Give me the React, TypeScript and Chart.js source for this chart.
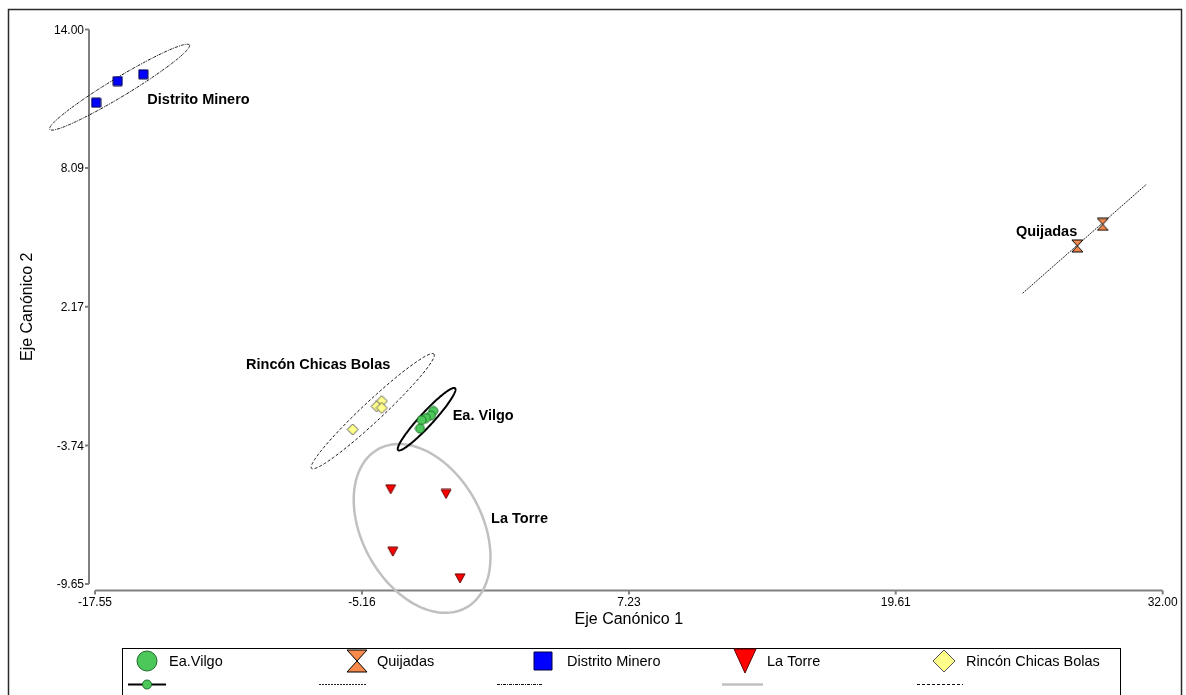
import { useEffect, useRef } from "react";
import { Chart, registerables } from "chart.js";

Chart.register(...registerables);

const FONT = '"Liberation Sans", Arial, sans-serif';

// Group scores on the two canonical axes
const eaVilgoX = [-1.85, -1.96, -2.19, -2.39, -2.47];
const eaVilgoY = [-2.27, -2.46, -2.57, -2.66, -3.02];
const quijadasX = [28.04, 29.22];
const quijadasY = [4.77, 5.69];
const distritoX = [-17.5, -16.5, -15.31];
const distritoY = [10.88, 11.8, 12.09];
const laTorreX = [-3.83, -1.26, -3.73, -0.61];
const laTorreY = [-5.61, -5.81, -8.27, -9.41];
const rinconX = [-5.59, -4.24, -4.48, -4.24];
const rinconY = [-3.06, -1.85, -2.07, -2.14];

const groupNames = ["Ea.Vilgo", "Quijadas", "Distrito Minero", "La Torre", "Rincón Chicas Bolas"];

// Axis ticks
const xTickValues = [-17.55, -5.16, 7.23, 19.61, 32.0];
const xTickLabels = ["-17.55", "-5.16", "7.23", "19.61", "32.00"];
const yTickValues = [-9.65, -3.74, 2.17, 8.09, 14.0];
const yTickLabels = ["-9.65", "-3.74", "2.17", "8.09", "14.00"];

// Confidence ellipses: centre, end of first semi-axis, end of second semi-axis (data units)
const ellipseCenter = [[-2.16, -2.62], [28.38, 5.08], [-16.41, 11.54], [-2.37, -7.28], [-4.66, -2.28]];
const ellipseAxisA = [[-0.84, -1.3], [31.26, 7.41], [-13.17, 13.34], [-0.33, -10.66], [-1.82, 0.16]];
const ellipseAxisB = [[-1.93, -2.81], [28.38, 5.08], [-16.18, 11.2], [0.06, -6.04], [-4.34, -2.59]];

// Group name annotations (left edge, vertical middle; data units)
const labelText = ["Ea. Vilgo", "Quijadas", "Distrito Minero", "La Torre", "Rincón Chicas Bolas"];
const labelPos = [[-0.95, -2.48], [25.19, 5.38], [-15.12, 10.99], [0.83, -6.89], [-10.54, -0.31]];

type Shape = "circle" | "hourglass" | "square" | "triangleDown" | "diamond";

const groupStyle: {
  shape: Shape; fill: string; stroke: string; size: [number, number]; legendSize: [number, number];
  lineColor: string; lineWidth: number; dash: number[];
}[] = [
  { shape: "circle", fill: "#4cc85a", stroke: "#1e6b28", size: [9, 9], legendSize: [20, 20], lineColor: "#000", lineWidth: 2, dash: [] },
  { shape: "hourglass", fill: "#f58a4c", stroke: "#000", size: [11, 12], legendSize: [20, 22], lineColor: "#222", lineWidth: 1, dash: [2, 1] },
  { shape: "square", fill: "#0000ff", stroke: "#000040", size: [9, 9], legendSize: [18, 18], lineColor: "#111", lineWidth: 1, dash: [3, 1, 1, 1] },
  { shape: "triangleDown", fill: "#ff0000", stroke: "#600000", size: [10, 9], legendSize: [22, 24], lineColor: "#c0c0c0", lineWidth: 2.5, dash: [] },
  { shape: "diamond", fill: "#ffff8c", stroke: "#555", size: [11, 11], legendSize: [22, 22], lineColor: "#111", lineWidth: 1, dash: [3, 2] },
];

function drawShape(ctx: CanvasRenderingContext2D, shape: Shape, cx: number, cy: number, w: number, h: number, fill: string, stroke: string) {
  const hw = w / 2, hh = h / 2;
  ctx.beginPath();
  switch (shape) {
    case "circle":
      ctx.ellipse(cx, cy, hw, hh, 0, 0, Math.PI * 2);
      break;
    case "square":
      ctx.rect(cx - hw, cy - hh, w, h);
      break;
    case "diamond":
      ctx.moveTo(cx, cy - hh);
      ctx.lineTo(cx + hw, cy);
      ctx.lineTo(cx, cy + hh);
      ctx.lineTo(cx - hw, cy);
      ctx.closePath();
      break;
    case "triangleDown":
      ctx.moveTo(cx - hw, cy - hh);
      ctx.lineTo(cx + hw, cy - hh);
      ctx.lineTo(cx, cy + hh);
      ctx.closePath();
      break;
    case "hourglass":
      ctx.moveTo(cx - hw, cy - hh);
      ctx.lineTo(cx + hw, cy - hh);
      ctx.lineTo(cx, cy);
      ctx.lineTo(cx + hw, cy + hh);
      ctx.lineTo(cx - hw, cy + hh);
      ctx.lineTo(cx, cy);
      ctx.closePath();
      break;
  }
  ctx.fillStyle = fill;
  ctx.fill();
  ctx.lineWidth = 1;
  ctx.strokeStyle = stroke;
  ctx.setLineDash([]);
  ctx.stroke();
}

function markerImage(i: number): HTMLCanvasElement {
  const s = groupStyle[i];
  const c = document.createElement("canvas");
  c.width = s.size[0] + 2;
  c.height = s.size[1] + 2;
  const ctx = c.getContext("2d")!;
  drawShape(ctx, s.shape, c.width / 2, c.height / 2, s.size[0], s.size[1], s.fill, s.stroke);
  return c;
}

const chartDecor = {
  id: "chartDecor",
  beforeDatasetsDraw(chart: any) {
    const { ctx, scales } = chart;
    const xs = scales.x, ys = scales.y;
    const left = xs.getPixelForValue(xTickValues[0]);
    const right = xs.getPixelForValue(xTickValues[xTickValues.length - 1]);
    const top = ys.getPixelForValue(yTickValues[yTickValues.length - 1]);
    const bottom = ys.getPixelForValue(yTickValues[0]);
    const yAxisX = left - 6;
    const xAxisY = bottom + 6.5;

    ctx.save();
    // outer frame
    ctx.strokeStyle = "#2a2a2a";
    ctx.lineWidth = 1.5;
    ctx.strokeRect(8.5, 9.5, 1173, 720);

    // axes
    ctx.strokeStyle = "#808080";
    ctx.lineWidth = 2;
    ctx.beginPath();
    ctx.moveTo(yAxisX, top);
    ctx.lineTo(yAxisX, bottom);
    yTickValues.forEach((v) => {
      const py = ys.getPixelForValue(v);
      ctx.moveTo(yAxisX, py);
      ctx.lineTo(yAxisX - 4, py);
    });
    ctx.moveTo(left, xAxisY);
    ctx.lineTo(right, xAxisY);
    xTickValues.forEach((v) => {
      const px = xs.getPixelForValue(v);
      ctx.moveTo(px, xAxisY);
      ctx.lineTo(px, xAxisY + 4);
    });
    ctx.stroke();

    // tick labels
    ctx.fillStyle = "#000";
    ctx.font = `12px ${FONT}`;
    ctx.textAlign = "right";
    ctx.textBaseline = "middle";
    yTickValues.forEach((v, i) => ctx.fillText(yTickLabels[i], yAxisX - 5, ys.getPixelForValue(v) + 1));
    ctx.textAlign = "center";
    ctx.textBaseline = "top";
    xTickValues.forEach((v, i) => ctx.fillText(xTickLabels[i], xs.getPixelForValue(v), xAxisY + 6));

    // axis titles
    ctx.font = `16px ${FONT}`;
    ctx.textBaseline = "middle";
    ctx.fillText("Eje Canónico 1", (left + right) / 2, 620);
    ctx.save();
    ctx.translate(28, (top + bottom) / 2);
    ctx.rotate(-Math.PI / 2);
    ctx.fillText("Eje Canónico 2", 0, 0);
    ctx.restore();

    // confidence ellipses
    const order = [3, 4, 2, 1, 0];
    order.forEach((g) => {
      const s = groupStyle[g];
      const cx = xs.getPixelForValue(ellipseCenter[g][0]);
      const cy = ys.getPixelForValue(ellipseCenter[g][1]);
      const ux = xs.getPixelForValue(ellipseAxisA[g][0]) - cx;
      const uy = ys.getPixelForValue(ellipseAxisA[g][1]) - cy;
      const vx = xs.getPixelForValue(ellipseAxisB[g][0]) - cx;
      const vy = ys.getPixelForValue(ellipseAxisB[g][1]) - cy;
      ctx.beginPath();
      if (Math.hypot(vx, vy) < 0.5) {
        ctx.moveTo(cx - ux, cy - uy);
        ctx.lineTo(cx + ux, cy + uy);
      } else {
        const n = 180;
        for (let k = 0; k <= n; k++) {
          const t = (k / n) * Math.PI * 2;
          const px = cx + ux * Math.cos(t) + vx * Math.sin(t);
          const py = cy + uy * Math.cos(t) + vy * Math.sin(t);
          if (k === 0) ctx.moveTo(px, py);
          else ctx.lineTo(px, py);
        }
        ctx.closePath();
      }
      ctx.strokeStyle = s.lineColor;
      ctx.lineWidth = s.lineWidth;
      ctx.setLineDash(s.dash);
      ctx.stroke();
    });
    ctx.restore();
  },
  afterDatasetsDraw(chart: any) {
    const { ctx, scales } = chart;
    const xs = scales.x, ys = scales.y;
    ctx.save();
    // group name annotations
    ctx.fillStyle = "#000";
    ctx.font = `bold 14.5px ${FONT}`;
    ctx.textAlign = "left";
    ctx.textBaseline = "middle";
    labelText.forEach((t, i) => {
      ctx.fillText(t, xs.getPixelForValue(labelPos[i][0]), ys.getPixelForValue(labelPos[i][1]));
    });

    // legend box
    ctx.strokeStyle = "#000";
    ctx.lineWidth = 1;
    ctx.setLineDash([]);
    ctx.strokeRect(122.5, 648.5, 998, 80);

    const iconX = [147, 357, 543, 745, 944];
    const textX = [169, 377, 567, 767, 966];
    const sampleX = [[128, 166], [319, 366], [497, 543], [722, 763], [917, 963]];
    const rowY = 661;
    const sampleY = 684.5;
    ctx.font = `14.5px ${FONT}`;
    groupNames.forEach((name, i) => {
      const s = groupStyle[i];
      drawShape(ctx, s.shape, iconX[i], rowY, s.legendSize[0], s.legendSize[1], s.fill, s.stroke);
      ctx.fillStyle = "#000";
      ctx.textAlign = "left";
      ctx.textBaseline = "middle";
      ctx.fillText(name, textX[i], rowY + 1);
      ctx.beginPath();
      ctx.moveTo(sampleX[i][0], sampleY);
      ctx.lineTo(sampleX[i][1], sampleY);
      ctx.strokeStyle = s.lineColor;
      ctx.lineWidth = s.lineWidth;
      ctx.setLineDash(s.dash);
      ctx.stroke();
      ctx.setLineDash([]);
      if (i === 0) {
        drawShape(ctx, s.shape, (sampleX[i][0] + sampleX[i][1]) / 2, sampleY, 9, 9, s.fill, s.stroke);
      }
    });
    ctx.restore();
  },
};

export default function App() {
  const canvasRef = useRef<HTMLCanvasElement | null>(null);

  useEffect(() => {
    if (!canvasRef.current) return;
    const series = [
      [eaVilgoX, eaVilgoY],
      [quijadasX, quijadasY],
      [distritoX, distritoY],
      [laTorreX, laTorreY],
      [rinconX, rinconY],
    ];
    const chart = new Chart(canvasRef.current, {
      type: "scatter",
      data: {
        datasets: series.map(([xv, yv], i) => ({
          label: groupNames[i],
          data: xv.map((x, k) => ({ x, y: yv[k] })),
          pointStyle: markerImage(i),
          pointRadius: 6,
          showLine: false,
          clip: false,
        })),
      },
      options: {
        animation: false,
        responsive: true,
        maintainAspectRatio: false,
        layout: { padding: { left: 95, top: 29.5, right: 23.3, bottom: 111 } },
        scales: {
          x: { type: "linear", min: -17.55, max: 32.0, display: false },
          y: { type: "linear", min: -9.65, max: 14.0, display: false },
        },
        plugins: { legend: { display: false }, tooltip: { enabled: false } },
      },
      plugins: [chartDecor],
    });
    return () => chart.destroy();
  }, []);

  return (
    <div style={{ position: "absolute", left: 0, top: 0, width: 1186, height: 695, background: "#fff" }}>
      <canvas ref={canvasRef} />
    </div>
  );
}
